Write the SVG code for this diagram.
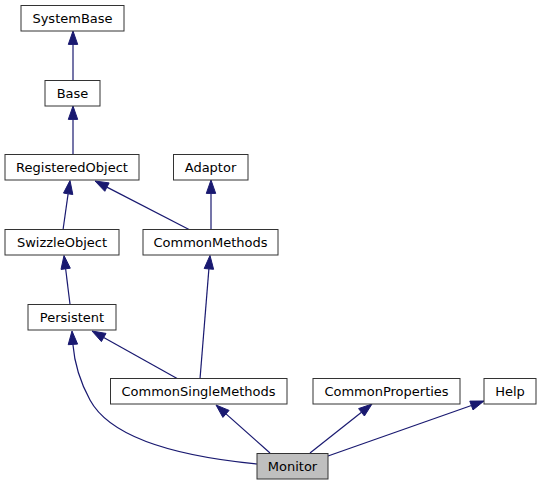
<svg xmlns="http://www.w3.org/2000/svg" width="541" height="485" viewBox="0 0 541 485">
<style>
.n rect{fill:#fff;stroke:#333;stroke-width:1}
.n.root rect{fill:#bfbfbf}
.n text{font-family:"DejaVu Sans",sans-serif;font-size:13px;text-anchor:middle;fill:#000}
.e path{fill:none;stroke:#191970;stroke-width:1.2}
.e polygon{fill:#191970;stroke:#191970;stroke-width:1}
</style>
<rect width="541" height="485" fill="#fff"/>
<g id="edges" class="e">
<path d="M73,80V44.4"/><polygon points="68.3,44.4 73,31 77.7,44.4"/>
<path d="M73,155V119.4"/><polygon points="68.3,119.4 73,106 77.7,119.4"/>
<path d="M63,230L68.1,193.8"/><polygon points="63.5,193.1 70,180.5 72.8,194.5"/>
<path d="M190,230L106.9,187.1"/><polygon points="104.8,191.3 95,181 109.1,182.9"/>
<path d="M211,230V193.4"/><polygon points="206.3,193.4 211,180 215.7,193.4"/>
<path d="M70,304L65.6,268.8"/><polygon points="61,269.4 64,255.5 70.3,268.2"/>
<path d="M200,379L208.9,268.9"/><polygon points="204.2,268.5 210,255.5 213.6,269.3"/>
<path d="M178,379L103.7,337.5"/><polygon points="101.4,341.6 92,331 106,333.4"/>
<path d="M257,464C175,456 110,437 90,400C78,378 74,358 72.9,344.4"/><polygon points="68.2,344.7 72,331 77.6,344.1"/>
<path d="M270,453L226,413.9"/><polygon points="222.9,417.4 216,405 229.1,410.4"/>
<path d="M310,453L361.5,412.3"/><polygon points="358.6,408.6 372,404 364.4,416"/>
<path d="M328,456L471.4,405.5"/><polygon points="473,409.9 484,401 469.8,401.1"/>
</g>
<g id="SystemBase" class="n"><rect x="21" y="5.5" width="103" height="25.5"/><text x="72.5" y="22.5">SystemBase</text></g>
<g id="Base" class="n"><rect x="45" y="80.5" width="55" height="25.5"/><text x="72.5" y="97.5">Base</text></g>
<g id="RegisteredObject" class="n"><rect x="5" y="154.5" width="134" height="25.5"/><text x="72" y="172">RegisteredObject</text></g>
<g id="Adaptor" class="n"><rect x="173.5" y="154.5" width="74.5" height="25.5"/><text x="210.5" y="172">Adaptor</text></g>
<g id="SwizzleObject" class="n"><rect x="5" y="229.5" width="114" height="25.5"/><text x="62" y="247">SwizzleObject</text></g>
<g id="CommonMethods" class="n"><rect x="143" y="229.5" width="135" height="25.5"/><text x="210.5" y="247">CommonMethods</text></g>
<g id="Persistent" class="n"><rect x="28" y="304.5" width="88" height="25.5"/><text x="72" y="321.5">Persistent</text></g>
<g id="CommonSingleMethods" class="n"><rect x="110.5" y="378.5" width="176.5" height="25.5"/><text x="198.5" y="396">CommonSingleMethods</text></g>
<g id="CommonProperties" class="n"><rect x="313" y="378.5" width="147" height="25.5"/><text x="386.5" y="396">CommonProperties</text></g>
<g id="Help" class="n"><rect x="484" y="378.5" width="52" height="25.5"/><text x="510" y="396">Help</text></g>
<g id="Monitor" class="n root"><rect x="257" y="453.5" width="71" height="25.5"/><text x="292.5" y="470.5">Monitor</text></g>
</svg>
